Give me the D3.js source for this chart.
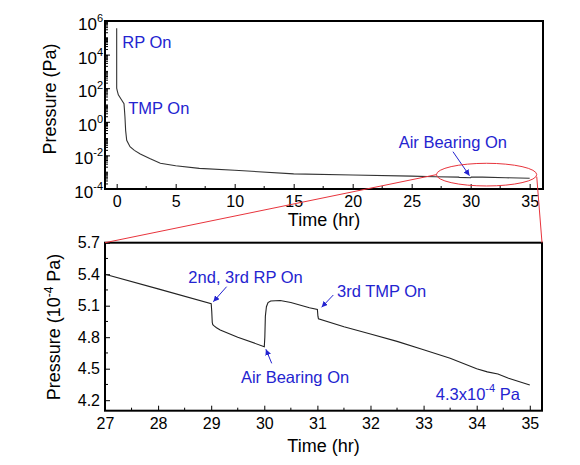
<!DOCTYPE html>
<html>
<head>
<meta charset="utf-8">
<script src="https://cdn.jsdelivr.net/npm/d3@7"></script>
<style>
  html, body { margin: 0; padding: 0; background: #fff; }
  svg { display: block; font-family: "Liberation Sans", Arial, sans-serif; }
</style>
</head>
<body>
<svg id="chart" width="580" height="465"></svg>
<script>
// ---------- data ----------
// Overview: time (hr) vs pressure (Pa)
const topTime = [0, 0, 0.05, 0.14, 0.42, 0.62, 0.66, 0.7, 0.76, 0.85, 1.0, 1.13, 1.5, 2, 2.8, 3.7, 5, 7, 10, 15, 20, 25, 27, 29, 29.02, 30, 30.05, 31, 33, 35];
const topPressure = [3.7e5, 100, 70, 40, 20, 12, 5, 2, 0.3, 0.08, 0.05, 0.033, 0.02, 0.012, 0.0065, 0.0034, 0.0024, 0.0017, 0.0013, 8.0e-4, 6.8e-4, 5.8e-4, 5.4e-4, 5.12e-4, 4.92e-4, 4.71e-4, 5.1e-4, 5.06e-4, 4.66e-4, 4.34e-4];
// Zoomed: time (hr) vs pressure (1e-4 Pa)
const zoomTime = [27, 28, 29, 29.01, 29.02, 29.03, 29.06, 29.1, 29.17, 29.5, 30.0, 30.01, 30.02, 30.04, 30.07, 30.12, 30.3, 30.5, 30.85, 31.0, 31.01, 31.02, 31.5, 32, 32.5, 33, 33.5, 34, 34.2, 34.4, 34.6, 35];
const zoomPressure = [5.40, 5.26, 5.12, 5.05, 4.94, 4.92, 4.905, 4.89, 4.868, 4.80, 4.71, 4.80, 5.00, 5.09, 5.13, 5.145, 5.15, 5.13, 5.08, 5.065, 5.00, 4.975, 4.90, 4.83, 4.76, 4.68, 4.60, 4.50, 4.47, 4.45, 4.41, 4.344];

const topXTicks = [0, 5, 10, 15, 20, 25, 30, 35];
const topYExponents = [-4, -2, 0, 2, 4, 6];
const zoomXTicks = [27, 28, 29, 30, 31, 32, 33, 34, 35];
const zoomYTicks = [4.2, 4.5, 4.8, 5.1, 5.4, 5.7];

const topNotes = [
  { text: "RP On", t: 0.47, p: 2.6e4 },
  { text: "TMP On", t: 0.98, p: 2.9 },
  { text: "Air Bearing On", t: 23.9, p: 0.029 }
];
const topArrows = [ { t1: 28.5, p1: 0.0166, t2: 29.9, p2: 6.2e-4 } ];
const zoomNotes = [
  { text: "2nd, 3rd RP On", t: 28.57, v: 5.313 },
  { text: "Air Bearing On", t: 29.56, v: 4.361 },
  { text: "3rd TMP On", t: 31.37, v: 5.186 }
];
const zoomArrows = [
  { t1: 29.29, v1: 5.281, t2: 29.04, v2: 5.138 },
  { t1: 30.14, v1: 4.551, t2: 30.03, v2: 4.685 },
  { t1: 31.30, v1: 5.202, t2: 31.08, v2: 5.085 }
];
const finalNote = { base: "4.3x10", sup: "-4", tail: " Pa", t: 33.23, v: 4.202 };
const zoomWindow = { t0: 27.1, t1: 35.6, e0: -3.82, e1: -2.47 };

// ---------- setup ----------
const svg = d3.select("#chart");
const blue = "#2424d0", red = "#e8343c";
const font = 16;

svg.append("defs").append("marker")
  .attr("id", "arr").attr("markerUnits", "userSpaceOnUse")
  .attr("markerWidth", 7).attr("markerHeight", 6)
  .attr("refX", 6).attr("refY", 3).attr("orient", "auto")
  .append("path").attr("d", "M0,0 L6,3 L0,6 Z").attr("fill", blue);

// ---------- top panel ----------
const T = { l: 105, r: 543, t: 21, b: 189 };
const xT = d3.scaleLinear().domain([-0.99, 36.13]).range([T.l, T.r]);
const yT = d3.scaleLog().domain([1e-4, 1e6]).range([T.b, T.t]);

const gT = svg.append("g");
// x ticks (inward)
const xTAxis = d3.axisBottom(xT).tickValues(topXTicks).tickSize(-5).tickPadding(7).tickFormat(d3.format("d"));
const gxT = gT.append("g").attr("transform", `translate(0,${T.b})`).call(xTAxis);
gxT.append("g").selectAll("line").data(d3.range(2.5, 36, 5)).join("line")
  .attr("x1", d => xT(d)).attr("x2", d => xT(d)).attr("y1", 0).attr("y2", -3).attr("stroke", "#000");
// y ticks
const yTAxis = d3.axisLeft(yT).tickValues(topYExponents.map(e => Math.pow(10, e))).tickSize(-5).tickFormat("");
const gyT = gT.append("g").attr("transform", `translate(${T.l},0)`).call(yTAxis);
const minorLog = [];
for (let e = -4; e < 6; e++) for (let m = 1; m <= 9; m++) { const v = m * Math.pow(10, e); if (!(m === 1 && e % 2 === 0)) minorLog.push(v); }
gyT.append("g").selectAll("line").data(minorLog).join("line")
  .attr("x1", 0).attr("x2", 3).attr("y1", d => yT(d)).attr("y2", d => yT(d)).attr("stroke", "#000");
const yLab = gT.append("g").selectAll("text").data(topYExponents).join("text")
  .attr("x", T.l - 2).attr("y", d => yT(Math.pow(10, d)) + 9)
  .attr("text-anchor", "end").attr("font-size", 17).attr("fill", "#000");
yLab.append("tspan").text("10");
yLab.append("tspan").attr("dy", -8).attr("font-size", 11).text(d => d);

[gxT, gyT].forEach(g => { g.select(".domain").remove(); g.selectAll(".tick line").attr("stroke", "#000"); g.selectAll("text").attr("font-size", font).attr("fill", "#000").attr("font-family", null); });

gT.append("path").datum(d3.zip(topTime, topPressure))
  .attr("fill", "none").attr("stroke", "#333").attr("stroke-width", 1.1)
  .attr("d", d3.line().x(d => xT(d[0])).y(d => yT(d[1])));

gT.append("rect").attr("x", T.l).attr("y", T.t).attr("width", T.r - T.l).attr("height", T.b - T.t)
  .attr("fill", "none").attr("stroke", "#000").attr("stroke-width", 2);

gT.append("text").attr("x", (T.l + T.r) / 2).attr("y", 226).attr("text-anchor", "middle").attr("font-size", 18).text("Time (hr)");
gT.append("text").attr("transform", `translate(56,99) rotate(-90)`).attr("text-anchor", "middle").attr("font-size", 18).text("Pressure (Pa)");

gT.selectAll("text.note").data(topNotes).join("text").attr("class", "note")
  .attr("x", d => xT(d.t)).attr("y", d => yT(d.p)).attr("font-size", 16.5).attr("fill", blue).text(d => d.text);
gT.selectAll("line.arrow").data(topArrows).join("line").attr("class", "arrow")
  .attr("x1", d => xT(d.t1)).attr("y1", d => yT(d.p1)).attr("x2", d => xT(d.t2)).attr("y2", d => yT(d.p2))
  .attr("stroke", blue).attr("stroke-width", 1).attr("marker-end", "url(#arr)");

// ---------- bottom panel ----------
const B = { l: 105, r: 542, t: 242.7, b: 410.7 };
const xB = d3.scaleLinear().domain([27, 35.23]).range([B.l, B.r]);
const yB = d3.scaleLinear().domain([4.1, 5.7]).range([B.b, B.t]);
const gB = svg.append("g");

const gxB = gB.append("g").attr("transform", `translate(0,${B.b})`)
  .call(d3.axisBottom(xB).tickValues(zoomXTicks).tickSize(-5).tickPadding(7).tickFormat(d3.format("d")));
gxB.append("g").selectAll("line").data(d3.range(27.5, 35.2, 1)).join("line")
  .attr("x1", d => xB(d)).attr("x2", d => xB(d)).attr("y1", 0).attr("y2", -3).attr("stroke", "#000");
const gyB = gB.append("g").attr("transform", `translate(${B.l},0)`)
  .call(d3.axisLeft(yB).tickValues(zoomYTicks).tickSize(-5).tickPadding(5).tickFormat(d3.format(".1f")));
gyB.append("g").selectAll("line").data(d3.range(4.35, 5.7, 0.3)).join("line")
  .attr("x1", 0).attr("x2", 3).attr("y1", d => yB(d)).attr("y2", d => yB(d)).attr("stroke", "#000");
[gxB, gyB].forEach(g => { g.select(".domain").remove(); g.selectAll(".tick line").attr("stroke", "#000"); g.selectAll("text").attr("font-size", font).attr("fill", "#000").attr("font-family", null); });

gB.append("path").datum(d3.zip(zoomTime, zoomPressure))
  .attr("fill", "none").attr("stroke", "#222").attr("stroke-width", 1.1)
  .attr("d", d3.line().x(d => xB(d[0])).y(d => yB(d[1])));

gB.append("rect").attr("x", B.l).attr("y", B.t).attr("width", B.r - B.l).attr("height", B.b - B.t)
  .attr("fill", "none").attr("stroke", "#000").attr("stroke-width", 2);

gB.append("text").attr("x", (B.l + B.r) / 2).attr("y", 452).attr("text-anchor", "middle").attr("font-size", 18).text("Time (hr)");
const yTitle = gB.append("text").attr("transform", `translate(60,327) rotate(-90)`).attr("text-anchor", "middle").attr("font-size", 18);
yTitle.append("tspan").text("Pressure (10");
yTitle.append("tspan").attr("dy", -7).attr("font-size", 12).text("-4");
yTitle.append("tspan").attr("dy", 7).text(" Pa)");

gB.selectAll("text.note").data(zoomNotes).join("text").attr("class", "note")
  .attr("x", d => xB(d.t)).attr("y", d => yB(d.v)).attr("font-size", 16.5).attr("fill", blue).text(d => d.text);
gB.selectAll("line.arrow").data(zoomArrows).join("line").attr("class", "arrow")
  .attr("x1", d => xB(d.t1)).attr("y1", d => yB(d.v1)).attr("x2", d => xB(d.t2)).attr("y2", d => yB(d.v2))
  .attr("stroke", blue).attr("stroke-width", 1).attr("marker-end", "url(#arr)");
const fn = gB.append("text").attr("x", xB(finalNote.t)).attr("y", yB(finalNote.v)).attr("font-size", 16.5).attr("fill", blue);
fn.append("tspan").text(finalNote.base);
fn.append("tspan").attr("dy", -8).attr("font-size", 11).text(finalNote.sup);
fn.append("tspan").attr("dy", 8).text(finalNote.tail);

// ---------- zoom window ellipse & connectors ----------
const ex0 = xT(zoomWindow.t0), ex1 = xT(zoomWindow.t1);
const ey0 = yT(Math.pow(10, zoomWindow.e1)), ey1 = yT(Math.pow(10, zoomWindow.e0));
const ecx = (ex0 + ex1) / 2, ecy = (ey0 + ey1) / 2;
svg.append("ellipse").attr("cx", ecx).attr("cy", ecy).attr("rx", (ex1 - ex0) / 2).attr("ry", (ey1 - ey0) / 2)
  .attr("fill", "none").attr("stroke", red).attr("stroke-width", 1);
svg.append("line").attr("x1", ex0).attr("y1", ecy).attr("x2", B.l).attr("y2", B.t).attr("stroke", red).attr("stroke-width", 1);
svg.append("line").attr("x1", ex1).attr("y1", ecy + 2).attr("x2", B.r).attr("y2", B.t).attr("stroke", red).attr("stroke-width", 1);
</script>
</body>
</html>
